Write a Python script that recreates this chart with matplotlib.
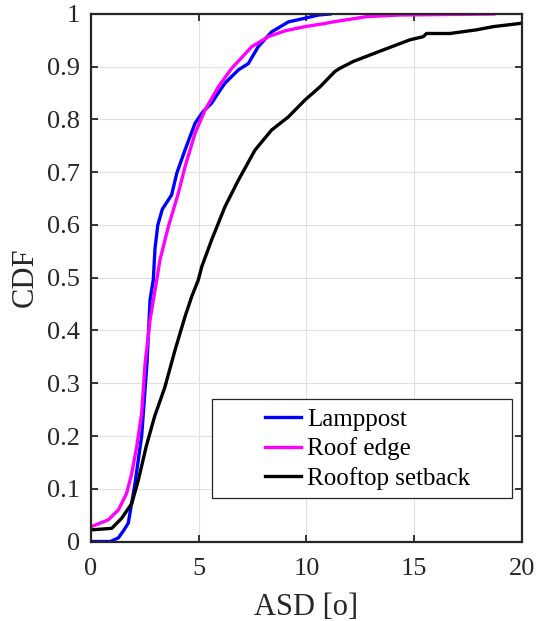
import matplotlib
matplotlib.use("Agg")
import matplotlib.pyplot as plt
from matplotlib.patches import Rectangle

# Lamppost (blue)
lamp_x = [0, 0.9, 1.27, 1.5, 1.73, 2.04, 2.35, 2.6, 2.74, 2.89, 2.97, 3.1, 3.31, 3.55, 3.74, 3.98, 4.36, 4.83, 5.2, 5.6, 5.9, 6.22, 6.84, 7.3, 7.76, 8.38, 9.16, 9.93, 10.55, 11.1]
lamp_y = [0, 0.0, 0.007, 0.02, 0.035, 0.11, 0.2, 0.34, 0.458, 0.496, 0.556, 0.6, 0.63, 0.645, 0.657, 0.698, 0.742, 0.793, 0.815, 0.831, 0.85, 0.869, 0.894, 0.906, 0.938, 0.966, 0.985, 0.992, 0.998, 1.0]

# Roof edge (magenta)
edge_x = [0, 0.8, 1.27, 1.65, 1.89, 2.12, 2.35, 2.51, 2.74, 3.05, 3.2, 3.59, 4.05, 4.36, 4.83, 5.29, 5.91, 6.53, 7.46, 8.23, 9.0, 9.93, 10.86, 11.24, 12.8, 14.3, 16.5, 18.7]
edge_y = [0.028, 0.041, 0.06, 0.091, 0.129, 0.18, 0.243, 0.338, 0.42, 0.496, 0.534, 0.597, 0.66, 0.71, 0.774, 0.818, 0.862, 0.897, 0.938, 0.957, 0.968, 0.976, 0.982, 0.985, 0.995, 0.998, 0.999, 1.0]

# Rooftop setback (black)
setback_x = [0, 0.96, 1.42, 1.89, 2.2, 2.56, 2.95, 3.43, 3.9, 4.36, 4.67, 4.98, 5.14, 5.6, 6.22, 6.84, 7.61, 8.38, 9.16, 9.93, 10.63, 11.32, 11.55, 12.17, 13.57, 14.8, 15.42, 15.57, 16.66, 17.9, 18.67, 19.9, 20.0]
setback_y = [0.022, 0.025, 0.044, 0.072, 0.117, 0.18, 0.237, 0.293, 0.363, 0.426, 0.464, 0.496, 0.521, 0.572, 0.635, 0.685, 0.742, 0.78, 0.805, 0.837, 0.862, 0.891, 0.897, 0.91, 0.932, 0.951, 0.957, 0.963, 0.963, 0.97, 0.976, 0.982, 0.983]

labels = ["Lamppost", "Roof edge", "Rooftop setback"]
xticks = [0, 5, 10, 15, 20]
yticks = [0, 0.1, 0.2, 0.3, 0.4, 0.5, 0.6, 0.7, 0.8, 0.9, 1]
yticklabels = ["0", "0.1", "0.2", "0.3", "0.4", "0.5", "0.6", "0.7", "0.8", "0.9", "1"]

plt.rcParams['font.family'] = ['Liberation Serif', 'DejaVu Serif']
dark = '#262626'

fig = plt.figure(figsize=(5.37, 6.21), dpi=100)
ax = fig.add_axes([0.1695, 0.128, 0.8025, 0.8495])

lw = 2.4
ax.plot(lamp_x, lamp_y, color='#0000ff', lw=lw, label=labels[0])
ax.plot(edge_x, edge_y, color='#ff00ff', lw=lw, label=labels[1])
ax.plot(setback_x, setback_y, color='black', lw=lw, label=labels[2])

ax.set_xlim(0, 20)
ax.set_ylim(0, 1)
ax.set_xticks(xticks)
ax.set_yticks(yticks)
ax.set_yticklabels(yticklabels)
ax.grid(True, color='#e0e0e0', lw=0.8)
ax.tick_params(direction='in', top=True, right=True, length=5, width=1.3,
               labelsize=19, colors=dark, pad=8)
ax.tick_params(axis='x', pad=12)
for s in ax.spines.values():
    s.set_linewidth(1.6)
    s.set_color(dark)
ax.set_xlabel('ASD [o]', fontsize=22, color=dark, labelpad=9)
ax.set_ylabel('CDF', fontsize=22, color=dark, labelpad=5)

# legend frame (MATLAB style, wide left padding)
ax.add_patch(Rectangle((0.280, 0.083), 0.698, 0.1866, transform=ax.transAxes,
                       facecolor='white', edgecolor=dark, lw=0.9, zorder=4))
leg = ax.legend(loc='upper left', bbox_to_anchor=(0.4037, 0.252), fontsize=18,
                frameon=False, borderpad=0, borderaxespad=0, handlelength=1.45,
                handletextpad=0.25, labelspacing=0.25)
leg.set_zorder(5)

fig.savefig('out.png', dpi=100)
